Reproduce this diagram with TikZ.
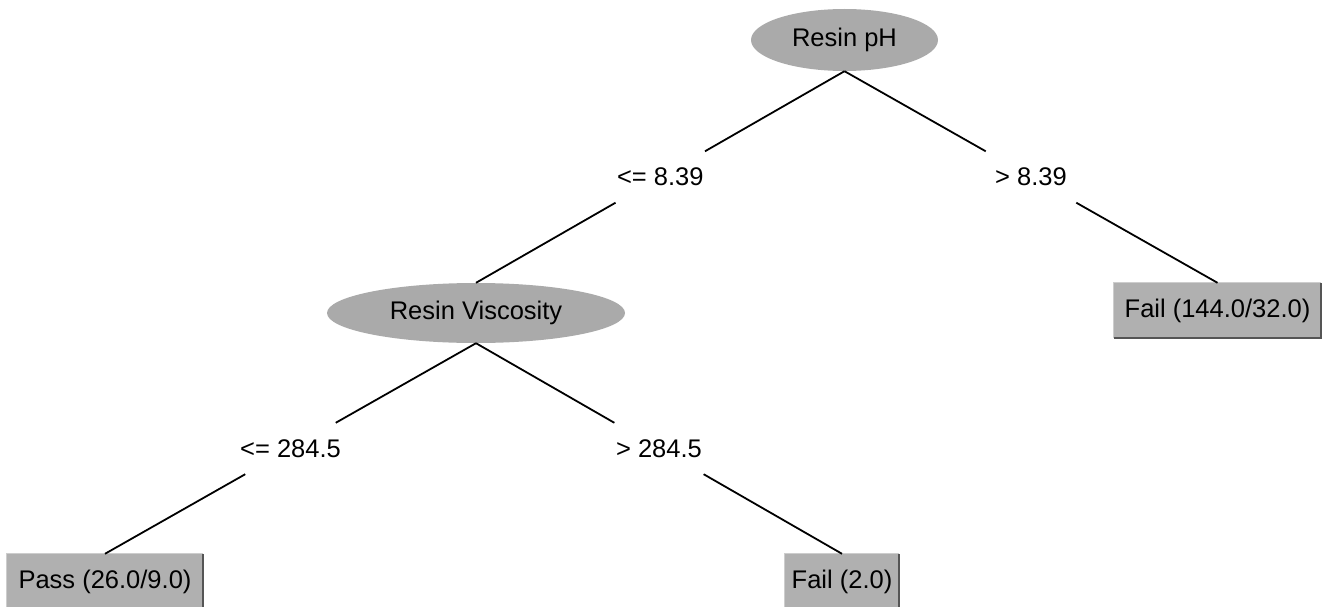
\documentclass[tikz,border=0pt]{standalone}
\usepackage{fontspec}
\setmainfont{Liberation Sans}
\usetikzlibrary{shapes.geometric,calc}
\definecolor{nodegray}{RGB}{170,170,170}
\definecolor{leafgray}{RGB}{176,176,176}
\definecolor{edgedark}{RGB}{85,85,85}
\definecolor{edgelight}{RGB}{205,205,205}
\begin{document}
\begin{tikzpicture}[x=1pt,y=-1pt,
  every node/.style={font=\fontsize{25.5}{30}\selectfont},
  split/.style={ellipse, fill=nodegray, draw=none, inner sep=0pt},
  leaf/.style={rectangle, fill=leafgray, minimum height=55, inner sep=0pt},
  lbl/.style={rectangle, minimum width=100, minimum height=51, inner sep=0pt},
  conn/.style={line width=1.8pt, black},
  darkedge/.style={edgedark, line width=1.6pt},
  lightedge/.style={edgelight, line width=1pt},
]
\useasboundingbox (0,0) rectangle (1322,607);

% decision nodes
\node[split, minimum width=187, minimum height=62] (rp) at (844.5,40) {Resin pH};
\node[split, minimum width=298, minimum height=60] (rv) at (476,313) {Resin Viscosity};

% leaves
\node[leaf, minimum width=207] (f1) at (1217.5,310.5) {Fail (144.0/32.0)};
\node[leaf, minimum width=196] (ps) at (105,581.5) {Pass (26.0/9.0)};
\node[leaf, minimum width=114] (f2) at (842,581.5) {Fail (2.0)};

% 3D edges of leaves
\foreach \n in {f1,ps,f2}{
  \draw[lightedge] (\n.south west) -- (\n.north west) -- (\n.north east);
  \draw[darkedge] (\n.north east) -- (\n.south east) -- (\n.south west);
}

% branch labels
\node[lbl] (l1) at ($(rp.south)!0.5!(rv.north)$) {<= 8.39};
\node[lbl] (l2) at ($(rp.south)!0.5!(f1.north)$) {> 8.39};
\node[lbl] (l3) at ($(rv.south)!0.5!(ps.north)$) {<= 284.5};
\node[lbl] (l4) at ($(rv.south)!0.5!(f2.north)$) {> 284.5};

% connectors
\draw[conn] (rp.south) -- (l1);
\draw[conn] (l1) -- (rv.north);
\draw[conn] (rp.south) -- (l2);
\draw[conn] (l2) -- (f1.north);
\draw[conn] (rv.south) -- (l3);
\draw[conn] (l3) -- (ps.north);
\draw[conn] (rv.south) -- (l4);
\draw[conn] (l4) -- (f2.north);
\end{tikzpicture}
\end{document}
